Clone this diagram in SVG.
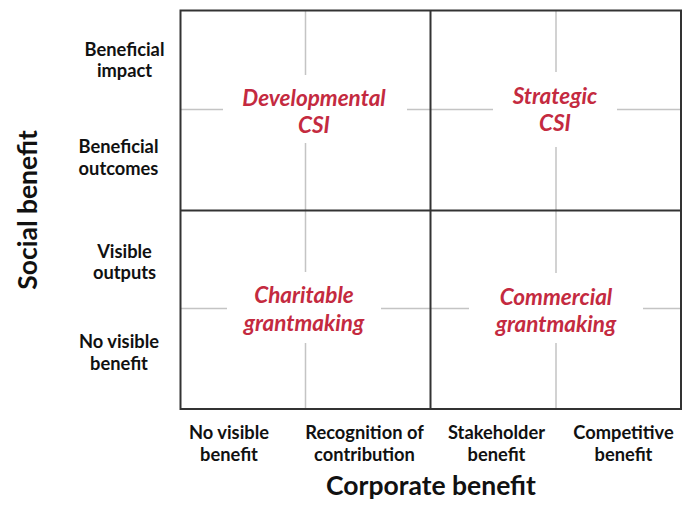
<svg xmlns="http://www.w3.org/2000/svg" width="685" height="507" viewBox="0 0 685 507">
<style>
.lbl{font-family:Lato,"Open Sans","Liberation Sans",sans-serif;font-weight:bold;font-size:18.3px;fill:#111;text-anchor:middle}
.ttl{font-family:Lato,"Open Sans","Liberation Sans",sans-serif;font-weight:bold;font-size:26.5px;fill:#111;text-anchor:middle}
.q{font-family:Lato,"Open Sans","Liberation Sans",sans-serif;font-weight:bold;font-style:italic;font-size:22.5px;fill:#c42a40;text-anchor:middle}
.lt{stroke:#c4c4c4;stroke-width:1.5;fill:none}
.dk{stroke:#333;stroke-width:2;fill:none}
</style>
<rect width="685" height="507" fill="#fff"/>
<g id="connectors">
<path class="lt" d="M305.5 10V75M305.5 143V210M180 109.5H223M407 109.5H430"/>
<path class="lt" d="M556 10V72M556 147V210M430 109.5H493M617 109.5H681"/>
<path class="lt" d="M305.5 210V272M305.5 343V409M180 308.5H227M381 308.5H430"/>
<path class="lt" d="M556 210V273M556 343V409M430 308.5H469M643 308.5H681"/>
<rect class="dk" x="180.5" y="10.5" width="500.5" height="398.5"/>
<path class="dk" d="M430.5 10V409M180 210.5H681"/>
</g>
<g id="q-developmental"><text class="q" x="314" y="106">Developmental</text><text class="q" x="314" y="133">CSI</text></g>
<g id="q-strategic"><text class="q" x="555" y="104">Strategic</text><text class="q" x="555" y="131">CSI</text></g>
<g id="q-charitable"><text class="q" x="304" y="303">Charitable</text><text class="q" x="304" y="331">grantmaking</text></g>
<g id="q-commercial"><text class="q" x="556" y="305">Commercial</text><text class="q" x="556" y="332">grantmaking</text></g>
<g id="y-labels">
<text class="lbl" x="124.5" y="56">Beneficial</text><text class="lbl" x="124.5" y="77">impact</text>
<text class="lbl" x="118.5" y="153">Beneficial</text><text class="lbl" x="118.5" y="175">outcomes</text>
<text class="lbl" x="124.5" y="258">Visible</text><text class="lbl" x="124.5" y="279">outputs</text>
<text class="lbl" x="119" y="348">No visible</text><text class="lbl" x="119" y="370">benefit</text>
</g>
<g id="x-labels">
<text class="lbl" x="229" y="439">No visible</text><text class="lbl" x="229" y="461">benefit</text>
<text class="lbl" x="364.5" y="439">Recognition of</text><text class="lbl" x="364.5" y="461">contribution</text>
<text class="lbl" x="496.5" y="439">Stakeholder</text><text class="lbl" x="496.5" y="461">benefit</text>
<text class="lbl" x="623.5" y="439">Competitive</text><text class="lbl" x="623.5" y="461">benefit</text>
</g>
<g id="axis-titles">
<text class="ttl" x="431" y="495">Corporate benefit</text>
<text class="ttl" transform="translate(37 210) rotate(-90)">Social benefit</text>
</g>
</svg>
